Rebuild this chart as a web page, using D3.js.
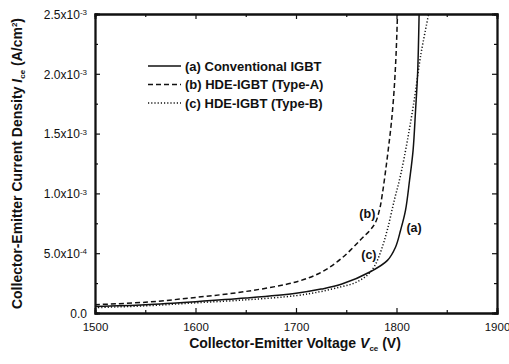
<!DOCTYPE html>
<html>
<head>
<meta charset="utf-8">
<script src="https://cdn.jsdelivr.net/npm/d3@7"></script>
<style>
body{margin:0;background:#fff}
text{font-family:"Liberation Sans",Arial,sans-serif;fill:#111}
</style>
</head>
<body>
<svg id="chart" width="509" height="364"></svg>
<script>
// values in units of 1e-3 A/cm2
const xTicks = [1500, 1600, 1700, 1800, 1900]
const xMinor = [1550, 1650, 1750, 1850]
const yTicks = [0, 0.5, 1.0, 1.5, 2.0, 2.5]
const yMinor = [0.25, 0.75, 1.25, 1.75, 2.25]
const yTickMain = ["0.0", "5.0x10", "1.0x10", "1.5x10", "2.0x10", "2.5x10"]
const yTickExp = ["", "-4", "-3", "-3", "-3", "-3"]
const seriesNames = ["(a) Conventional IGBT", "(b) HDE-IGBT (Type-A)", "(c) HDE-IGBT (Type-B)"]
const curveTags = ["(a)", "(b)", "(c)"]

const aV = [1500, 1550, 1600, 1650, 1700, 1725, 1745, 1774, 1791, 1799, 1804, 1809, 1813, 1816.5, 1819, 1821, 1822.5]
const aJ = [0.055, 0.07, 0.095, 0.125, 0.165, 0.2, 0.24, 0.345, 0.44, 0.55, 0.69, 0.86, 1.11, 1.36, 1.7, 2.0, 2.5]
const bV = [1500, 1550, 1600, 1650, 1700, 1725, 1745, 1764, 1778, 1783, 1786, 1789, 1792, 1795, 1797.5, 1799.5, 1801]
const bJ = [0.07, 0.09, 0.13, 0.18, 0.26, 0.34, 0.455, 0.61, 0.74, 0.86, 1.0, 1.18, 1.38, 1.6, 1.85, 2.15, 2.5]
const cV = [1500, 1550, 1600, 1650, 1700, 1725, 1745, 1758, 1770, 1778, 1785, 1791, 1798, 1804, 1811, 1818, 1824, 1832]
const cJ = [0.045, 0.06, 0.085, 0.11, 0.145, 0.18, 0.22, 0.25, 0.31, 0.39, 0.53, 0.7, 0.95, 1.15, 1.45, 1.8, 2.15, 2.5]

const series = [
  {V: aV, J: aJ, dash: null},
  {V: bV, J: bJ, dash: "5,3"},
  {V: cV, J: cJ, dash: "1.2,2"}
]

const W = 509, H = 364
const m = {left: 95, top: 14, right: 12, bottom: 51}
const svg = d3.select("#chart")

const x = d3.scaleLinear().domain([1500, 1900]).range([m.left, W - m.right])
const y = d3.scaleLinear().domain([0, 2.5]).range([H - m.bottom, m.top])

const plot = svg.append("g")
plot.append("clipPath").attr("id", "clip").append("rect")
  .attr("x", m.left).attr("y", m.top)
  .attr("width", W - m.left - m.right).attr("height", H - m.top - m.bottom)

let line = d3.line().x(d => x(d[0])).y(d => y(d[1])).curve(d3.curveCatmullRom.alpha(0.5))

series.forEach(s => {
  plot.append("path")
    .datum(s.V.map((v, i) => [v, s.J[i]]))
    .attr("clip-path", "url(#clip)")
    .attr("fill", "none")
    .attr("stroke", "#111")
    .attr("stroke-width", 1.5)
    .attr("stroke-dasharray", s.dash)
    .attr("d", line)
})

// axes, ticks pointing inward on all four sides
const axB = svg.append("g").attr("transform", `translate(0,${y(0)})`)
  .call(d3.axisBottom(x).tickValues(xTicks).tickSize(-5).tickPadding(10).tickFormat(d3.format("d")))
svg.append("g").attr("transform", `translate(0,${y(2.5)})`)
  .call(d3.axisTop(x).tickValues(xTicks).tickSize(-5).tickFormat(""))
const axL = svg.append("g").attr("transform", `translate(${x(1500)},0)`)
  .call(d3.axisLeft(y).tickValues(yTicks).tickSize(-5).tickPadding(8).tickFormat(""))
svg.append("g").attr("transform", `translate(${x(1900)},0)`)
  .call(d3.axisRight(y).tickValues(yTicks).tickSize(-5).tickFormat(""))

svg.append("g").attr("transform", `translate(0,${y(0)})`)
  .call(d3.axisBottom(x).tickValues(xMinor).tickSize(-3).tickFormat(""))
svg.append("g").attr("transform", `translate(0,${y(2.5)})`)
  .call(d3.axisTop(x).tickValues(xMinor).tickSize(-3).tickFormat(""))
svg.append("g").attr("transform", `translate(${x(1500)},0)`)
  .call(d3.axisLeft(y).tickValues(yMinor).tickSize(-3).tickFormat(""))
svg.append("g").attr("transform", `translate(${x(1900)},0)`)
  .call(d3.axisRight(y).tickValues(yMinor).tickSize(-3).tickFormat(""))

svg.selectAll(".domain").attr("stroke", "#111").attr("stroke-width", 1.8)
svg.selectAll(".tick line").attr("stroke", "#111").attr("stroke-width", 1.2)
axB.selectAll(".tick text").attr("font-size", 11.5).attr("fill", "#111")
  .style("font-family", '"Liberation Sans",Arial,sans-serif')

// y tick labels with superscript exponent
axL.selectAll(".tick").each(function (d, i) {
  const t = d3.select(this).append("text")
    .attr("x", -8).attr("dy", "0.35em")
    .attr("text-anchor", "end").attr("font-size", 12)
  t.append("tspan").text(yTickMain[i])
  if (yTickExp[i]) {
    t.append("tspan").attr("dy", "-0.45em").attr("font-size", 8).text(yTickExp[i])
  }
})

// axis titles
const xt = svg.append("text")
  .attr("x", 295).attr("y", 348)
  .attr("text-anchor", "middle").attr("font-size", 14).attr("font-weight", "bold")
xt.append("tspan").text("Collector-Emitter Voltage  ")
xt.append("tspan").attr("font-style", "italic").text("V")
xt.append("tspan").attr("font-size", 8).attr("dy", 3).text("ce")
xt.append("tspan").attr("dy", -3).text(" (V)")

const yt = svg.append("text")
  .attr("transform", `translate(22,${(m.top + H - m.bottom) / 2}) rotate(-90)`)
  .attr("text-anchor", "middle").attr("font-size", 14).attr("font-weight", "bold")
yt.append("tspan").text("Collector-Emitter Current Density  ")
yt.append("tspan").attr("font-style", "italic").text("I")
yt.append("tspan").attr("font-size", 8).attr("dy", 3).text("ce")
yt.append("tspan").attr("dy", -3).text(" (A/cm")
yt.append("tspan").attr("font-size", 8).attr("dy", -5).text("2")
yt.append("tspan").attr("dy", 5).text(")")

// legend
const legend = svg.append("g")
seriesNames.forEach((name, i) => {
  const ly = 66 + i * 18.5
  legend.append("line")
    .attr("x1", 148).attr("x2", 181).attr("y1", ly).attr("y2", ly)
    .attr("stroke", "#111").attr("stroke-width", 1.4)
    .attr("stroke-dasharray", series[i].dash)
  legend.append("text")
    .attr("x", 185).attr("y", ly).attr("dy", "0.35em")
    .attr("font-size", 13).attr("font-weight", "bold")
    .text(name)
})

// curve tags
const tagPos = [[1817.5, 0.71], [1771, 0.83], [1772.5, 0.49]]
curveTags.forEach((t, i) => {
  svg.append("text")
    .attr("x", x(tagPos[i][0])).attr("y", y(tagPos[i][1])).attr("dy", "0.35em")
    .attr("text-anchor", "middle").attr("font-size", 12.5).attr("font-weight", "bold")
    .text(t)
})
</script>
</body>
</html>
